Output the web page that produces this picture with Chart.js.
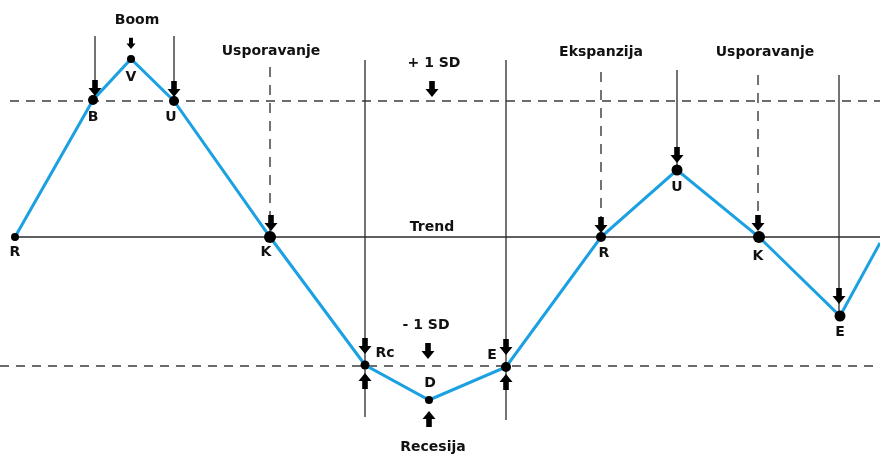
<!DOCTYPE html>
<html>
<head>
<meta charset="utf-8">
<script src="https://cdn.jsdelivr.net/npm/chart.js@4"></script>
<style>
  body { margin: 0; background: #fff; }
  #wrap { width: 880px; height: 455px; }
</style>
</head>
<body>
<div id="wrap"><canvas id="cycle-chart"></canvas></div>
<script>
// Business cycle sketch: x = time, y = deviation from trend
const cycleX = [15, 93, 131, 174, 270, 365, 429, 506, 601, 677, 759, 840, 880];
const cycleY = [0, 137, 178, 136, 0, -128, -163, -130, 0, 67, 0, -79, -6];
const phaseLabels = ['R', 'B', 'V', 'U', 'K', 'Rc', 'D', 'E', 'R', 'U', 'K', 'E', ''];
const dotSizes = [4, 5, 4, 5, 6, 4.5, 4, 5, 5, 5.5, 6, 5.5, 0];
const labelDx = [0, 0, 0, -3, -4, 20, 1, -14, 3, 0, -1, 0, 0];
const labelDy = [15, 17, 18, 16, 15, -12, -17, -12, 16, 17, 19, 16, 0];

const trendLevel = 0;
const sdUpper = 136;
const sdLower = -129;

// vertical guide lines
const guideX = [95, 174, 270, 365, 506, 601, 677, 758, 839];
const guideTop = [201, 201, 170, 177, 177, 165, 167, 162, 162];
const guideBottom = [137, 136, 0, -180, -183, 0, 67, 0, -79];
const guideDashed = [false, false, true, false, false, true, false, true, false];

// arrows (tip position, 1 = pointing down, -1 = pointing up)
const arrowX = [95, 131, 174, 271, 432, 365, 365, 428, 429, 506, 506, 601, 677, 758, 839];
const arrowTip = [141, 188, 140, 6, 140, -117, -136, -122, -174, -118, -137, 4, 74, 6, -67];
const arrowDir = [1, 1, 1, 1, 1, 1, -1, 1, -1, 1, -1, 1, 1, 1, 1];
const arrowScale = [1, 0.7, 1, 1, 1, 1, 1, 1, 1, 1, 1, 1, 1, 1, 1];

// headings
const textLabels = ['Boom', 'Usporavanje', '+ 1 SD', 'Ekspanzija', 'Usporavanje', 'Trend', '- 1 SD', 'Recesija'];
const textX = [137, 271, 434, 601, 765, 432, 426, 433];
const textY = [217, 186, 174, 185, 185, 10, -88, -210];

function drawArrow(ctx, px, tip, dir, s) {
  const headLen = 8 * s, headW = 6.5 * s, shaftLen = 8 * s, shaftW = 2.8 * s;
  const base = tip - dir * headLen;
  ctx.beginPath();
  ctx.moveTo(px, tip);
  ctx.lineTo(px - headW, base);
  ctx.lineTo(px - shaftW, base);
  ctx.lineTo(px - shaftW, base - dir * shaftLen);
  ctx.lineTo(px + shaftW, base - dir * shaftLen);
  ctx.lineTo(px + shaftW, base);
  ctx.lineTo(px + headW, base);
  ctx.closePath();
  ctx.fill();
}

const annotate = {
  id: 'annotate',
  afterDatasetsDraw(chart) {
    const { ctx, scales: { x, y } } = chart;
    ctx.save();
    ctx.fillStyle = '#000';
    arrowX.forEach((ax, i) => {
      drawArrow(ctx, x.getPixelForValue(ax), y.getPixelForValue(arrowTip[i]), arrowDir[i], arrowScale[i]);
    });

    ctx.font = 'bold 14px "DejaVu Sans"';
    ctx.textAlign = 'center';
    ctx.textBaseline = 'middle';
    ctx.fillStyle = '#111';
    textLabels.forEach((t, i) => {
      ctx.fillText(t, x.getPixelForValue(textX[i]), y.getPixelForValue(textY[i]));
    });
    phaseLabels.forEach((t, i) => {
      if (!t) return;
      ctx.fillText(t, x.getPixelForValue(cycleX[i]) + labelDx[i], y.getPixelForValue(cycleY[i]) + labelDy[i]);
    });
    ctx.restore();
  }
};

const hLine = (x0, x1, level, dashed, width) => ({
  data: [{ x: x0, y: level }, { x: x1, y: level }],
  showLine: true,
  borderColor: dashed ? '#3c3c3c' : '#2a2a2a',
  borderWidth: width,
  borderDash: dashed ? [9, 7] : [],
  pointRadius: 0,
  order: 5
});

const datasets = [
  {
    label: 'Ciklus',
    data: cycleX.map((v, i) => ({ x: v, y: cycleY[i] })),
    showLine: true,
    borderColor: '#1ba1e2',
    borderWidth: 3,
    pointRadius: dotSizes,
    pointBackgroundColor: '#000',
    pointBorderWidth: 0,
    order: 0
  },
  hLine(15, 880, trendLevel, false, 1.5),
  hLine(10, 880, sdUpper, true, 1.3),
  hLine(0, 880, sdLower, true, 1.3),
  ...guideX.map((gx, i) => ({
    data: [{ x: gx, y: guideTop[i] }, { x: gx, y: guideBottom[i] }],
    showLine: true,
    borderColor: '#2a2a2a',
    borderWidth: 1.3,
    borderDash: guideDashed[i] ? [10, 8] : [],
    pointRadius: 0,
    order: 4
  }))
];

new Chart(document.getElementById('cycle-chart'), {
  type: 'scatter',
  data: { datasets },
  options: {
    responsive: true,
    maintainAspectRatio: false,
    animation: false,
    events: [],
    layout: { padding: 0, autoPadding: false },
    plugins: { legend: { display: false }, tooltip: { enabled: false } },
    scales: {
      x: { type: 'linear', min: 0, max: 880, display: false },
      y: { type: 'linear', min: -218, max: 237, display: false }
    }
  },
  plugins: [annotate]
});
</script>
</body>
</html>
